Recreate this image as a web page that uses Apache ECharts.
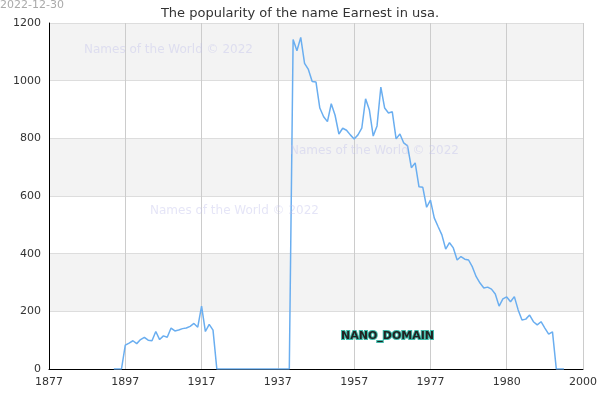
<!DOCTYPE html>
<html><head><meta charset="utf-8">
<script src="https://cdn.jsdelivr.net/npm/echarts@6/dist/echarts.min.js"></script>
<style>html,body{margin:0;padding:0}#c{width:600px;height:400px}</style>
</head><body><div id="c"></div>
<script>
const tickLabels = ['1877','1897','1917','1937','1957','1977','1980','2000'];
const categories = Array.from({length:141},(_,i)=>i);
const early = [83,90,98,88,102,110,100,98,130,102,115,110,142,132,135,140,142,148,158,145,218,130,155,135];
const late = [1143,1104,1150,1060,1039,997,995,905,875,858,920,880,815,835,828,812,798,812,835,937,898,808,843,978,905,888,892,798,815,784,774,698,715,632,630,561,586,524,494,465,416,438,420,378,390,381,378,354,320,298,281,284,277,260,218,243,250,233,251,205,170,173,187,164,153,164,142,121,129,0,0,0];
const values = [];
for(let i=0;i<17;i++) values.push(null);
values.push(0,0,0);
values.push(...early);
for(let i=44;i<64;i++) values.push(0);
values.push(...late);
const chart = echarts.init(document.getElementById('c'));
const wm = (l,t)=>({type:'text',z:100,left:l,top:t,style:{text:'Names of the World © 2022',fill:'rgba(190,190,235,0.4)',fontSize:12,fontFamily:'DejaVu Sans'}});
chart.setOption({
  animation:false,
  title:{text:'The popularity of the name Earnest in usa.',left:'center',top:2,textStyle:{fontSize:13,fontWeight:'normal',color:'#333',fontFamily:'DejaVu Sans'}},
  graphic:[
    {type:'text',z:100,left:0,top:0,style:{text:'2022-12-30',fill:'#aaa',fontSize:11,fontFamily:'DejaVu Sans'}},
    wm(84,44),wm(290,145),wm(150,205),
    {type:'text',z:100,left:340,top:330,style:{text:'NANO_DOMAIN',fill:'#222',stroke:'#3fb8a8',lineWidth:2,fontSize:11,fontWeight:'bold',fontFamily:'DejaVu Sans'}}
  ],
  grid:{left:49,right:15,top:23,bottom:31},
  xAxis:{type:'category',data:categories,boundaryGap:false,
    axisLine:{lineStyle:{color:'#000'}},axisTick:{show:false},
    axisLabel:{interval:19,color:'#333',fontSize:11,fontFamily:'DejaVu Sans',formatter:(v,i)=>tickLabels[i/20]||''},
    splitLine:{show:true,interval:19,lineStyle:{color:'#ccc'}}},
  yAxis:{type:'value',min:0,max:1200,interval:200,
    axisLine:{show:true,lineStyle:{color:'#000'}},axisTick:{show:false},
    axisLabel:{color:'#333',fontSize:11,fontFamily:'DejaVu Sans',formatter:v=>String(v)},
    splitLine:{lineStyle:{color:'#ddd'}},
    splitArea:{show:true,areaStyle:{color:['#ffffff','#f3f3f3']}}},
  series:[{type:'line',data:values,showSymbol:false,lineStyle:{color:'#6aaef0',width:1.5},itemStyle:{color:'#6aaef0'}}]
});
</script></body></html>
